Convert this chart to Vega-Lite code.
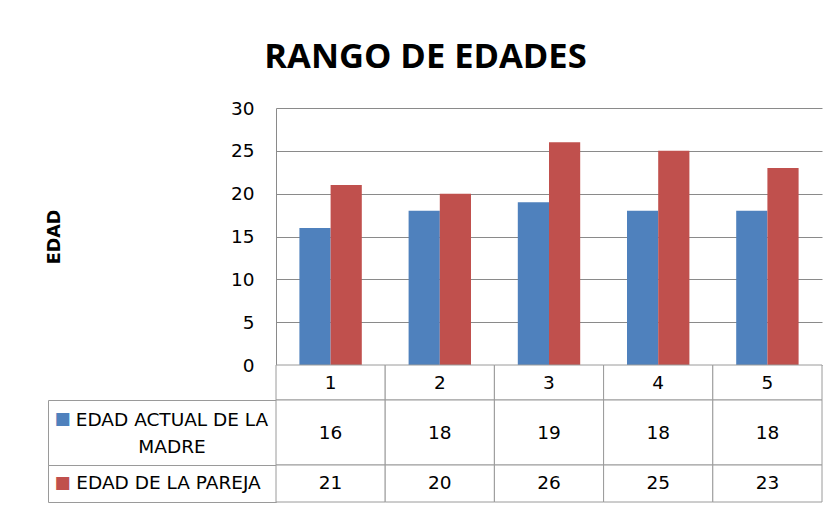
{
  "$schema": "https://vega.github.io/schema/vega-lite/v6.json",
  "autosize": {"type": "pad"},
  "padding": {"left": 45, "top": 39, "right": 5, "bottom": 0},
  "background": "white",
  "title": {
    "text": "RANGO DE EDADES",
    "font": "Open Sans",
    "fontSize": 34.5,
    "fontWeight": "bold",
    "color": "#000000",
    "anchor": "middle",
    "dx": -8.5,
    "offset": 24
  },
  "columns": 2,
  "spacing": 0,
  "bounds": "flush",
  "align": "each",
  "config": {
    "view": {"stroke": null},
    "concat": {"spacing": 0},
    "font": "DejaVu Sans",
    "text": {"font": "DejaVu Sans", "fontSize": 18.5, "color": "#000000"}
  },
  "datasets": {
    "edades": [
      {"caso": "1", "serie": "EDAD ACTUAL DE LA MADRE", "edad": 16},
      {"caso": "2", "serie": "EDAD ACTUAL DE LA MADRE", "edad": 18},
      {"caso": "3", "serie": "EDAD ACTUAL DE LA MADRE", "edad": 19},
      {"caso": "4", "serie": "EDAD ACTUAL DE LA MADRE", "edad": 18},
      {"caso": "5", "serie": "EDAD ACTUAL DE LA MADRE", "edad": 18},
      {"caso": "1", "serie": "EDAD DE LA PAREJA", "edad": 21},
      {"caso": "2", "serie": "EDAD DE LA PAREJA", "edad": 20},
      {"caso": "3", "serie": "EDAD DE LA PAREJA", "edad": 26},
      {"caso": "4", "serie": "EDAD DE LA PAREJA", "edad": 25},
      {"caso": "5", "serie": "EDAD DE LA PAREJA", "edad": 23}
    ],
    "series": [
      {"serie": "EDAD ACTUAL DE LA MADRE", "etiqueta": "EDAD ACTUAL DE LA\nMADRE"},
      {"serie": "EDAD DE LA PAREJA", "etiqueta": "EDAD DE LA PAREJA"}
    ]
  },
  "concat": [
    {
      "width": 228,
      "height": 257,
      "data": {"values": [{}]},
      "mark": {"type": "rect", "opacity": 0}
    },
    {
      "width": 546,
      "height": 257,
      "data": {"name": "edades"},
      "mark": {"type": "bar"},
      "encoding": {
        "x": {
          "field": "caso",
          "type": "ordinal",
          "scale": {"paddingInner": 0, "paddingOuter": 0},
          "axis": null
        },
        "xOffset": {
          "field": "serie",
          "type": "nominal",
          "sort": ["EDAD ACTUAL DE LA MADRE", "EDAD DE LA PAREJA"],
          "scale": {"paddingInner": 0, "paddingOuter": 0.75}
        },
        "y": {
          "field": "edad",
          "type": "quantitative",
          "scale": {"domain": [0, 30], "nice": false},
          "axis": {
            "values": [0, 5, 10, 15, 20, 25, 30],
            "title": "EDAD",
            "titleFont": "DejaVu Sans",
            "titleFontSize": 17.5,
            "titleFontWeight": "bold",
            "titleColor": "#000000",
            "titlePadding": 2,
            "minExtent": 210.5,
            "grid": true,
            "gridColor": "#8a8a8a",
            "ticks": false,
            "domainColor": "#8a8a8a",
            "labelPadding": 22,
            "labelFont": "DejaVu Sans",
            "labelFontSize": 18.5,
            "labelColor": "#000000"
          }
        },
        "color": {
          "field": "serie",
          "type": "nominal",
          "scale": {"domain": ["EDAD ACTUAL DE LA MADRE", "EDAD DE LA PAREJA"], "range": ["#4F81BD", "#C0504D"]},
          "legend": null
        }
      }
    },
    {
      "width": 228,
      "height": 35,
      "data": {"values": [{}]},
      "mark": {"type": "rect", "opacity": 0}
    },
    {
      "width": 546,
      "height": 35,
      "data": {"name": "edades"},
      "transform": [{"filter": "datum.serie == 'EDAD ACTUAL DE LA MADRE'"}],
      "encoding": {
        "x": {"field": "caso", "type": "ordinal", "scale": {"paddingInner": 0, "paddingOuter": 0}, "axis": null}
      },
      "layer": [
        {"mark": {"type": "rect", "fill": "white", "stroke": "#9a9a9a", "strokeWidth": 1}},
        {
          "mark": {"type": "text", "align": "center", "baseline": "middle"},
          "encoding": {"text": {"field": "caso", "type": "nominal"}}
        }
      ]
    },
    {
      "width": 228,
      "height": 65,
      "view": {"stroke": "#9a9a9a"},
      "data": {"name": "series"},
      "transform": [{"filter": "datum.serie == 'EDAD ACTUAL DE LA MADRE'"}],
      "layer": [
        {
          "mark": {"type": "text", "align": "center", "baseline": "middle", "fontSize": 17, "dx": -99.5, "dy": -14},
          "encoding": {
            "text": {"value": "■"},
            "color": {"field": "serie", "type": "nominal", "scale": {"domain": ["EDAD ACTUAL DE LA MADRE", "EDAD DE LA PAREJA"], "range": ["#4F81BD", "#C0504D"]}, "legend": null}
          }
        },
        {
          "mark": {"type": "text", "align": "center", "baseline": "middle", "lineBreak": "\n", "lineHeight": 27, "dx": 10, "dy": -12.5},
          "encoding": {"text": {"field": "etiqueta", "type": "nominal"}}
        }
      ]
    },
    {
      "width": 546,
      "height": 65,
      "data": {"name": "edades"},
      "transform": [{"filter": "datum.serie == 'EDAD ACTUAL DE LA MADRE'"}],
      "encoding": {
        "x": {"field": "caso", "type": "ordinal", "scale": {"paddingInner": 0, "paddingOuter": 0}, "axis": null}
      },
      "layer": [
        {"mark": {"type": "rect", "fill": "white", "stroke": "#9a9a9a", "strokeWidth": 1}},
        {
          "mark": {"type": "text", "align": "center", "baseline": "middle"},
          "encoding": {"text": {"field": "edad", "type": "quantitative"}}
        }
      ]
    },
    {
      "width": 228,
      "height": 37,
      "view": {"stroke": "#9a9a9a"},
      "data": {"name": "series"},
      "transform": [{"filter": "datum.serie == 'EDAD DE LA PAREJA'"}],
      "layer": [
        {
          "mark": {"type": "text", "align": "center", "baseline": "middle", "fontSize": 17, "dx": -99.5, "dy": -0.5},
          "encoding": {
            "text": {"value": "■"},
            "color": {"field": "serie", "type": "nominal", "scale": {"domain": ["EDAD ACTUAL DE LA MADRE", "EDAD DE LA PAREJA"], "range": ["#4F81BD", "#C0504D"]}, "legend": null}
          }
        },
        {
          "mark": {"type": "text", "align": "center", "baseline": "middle", "dx": 6.5, "dy": -1},
          "encoding": {"text": {"field": "etiqueta", "type": "nominal"}}
        }
      ]
    },
    {
      "width": 546,
      "height": 37,
      "data": {"name": "edades"},
      "transform": [{"filter": "datum.serie == 'EDAD DE LA PAREJA'"}],
      "encoding": {
        "x": {"field": "caso", "type": "ordinal", "scale": {"paddingInner": 0, "paddingOuter": 0}, "axis": null}
      },
      "layer": [
        {"mark": {"type": "rect", "fill": "white", "stroke": "#9a9a9a", "strokeWidth": 1}},
        {
          "mark": {"type": "text", "align": "center", "baseline": "middle", "dy": -1},
          "encoding": {"text": {"field": "edad", "type": "quantitative"}}
        }
      ]
    }
  ]
}
